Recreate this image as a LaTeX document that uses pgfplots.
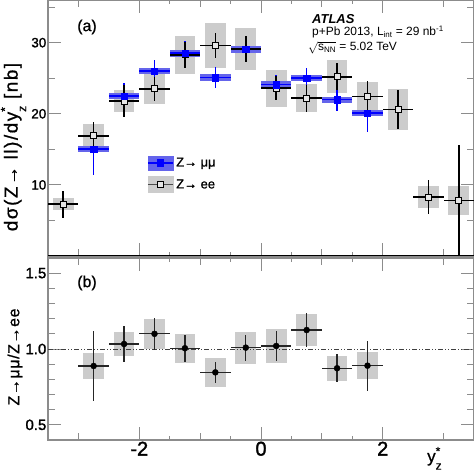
\documentclass[border=0pt]{standalone}
\usepackage{fontspec}
\setmainfont{Liberation Sans}
\usepackage{graphicx}
\usepackage{pgfplots}
\usepackage{pgfplotstable}
\pgfplotsset{compat=1.18}

\definecolor{boxgray}{gray}{0.80}
\definecolor{mubox}{RGB}{100,100,235}
\definecolor{framegray}{gray}{0.55}

\newcommand{\fb}[1]{\addfontfeature{FakeBold=#1}}

\pgfplotstableread{
x y stat sys
-3.25 7.3 1.9 0.85
-2.75 16.9 2.0 1.6
-2.25 21.8 2.2 1.6
-1.75 23.5 1.7 2.1
-1.25 28.3 1.8 2.7
-0.75 29.6 1.8 3.2
-0.25 29.1 1.8 3.0
0.25 23.6 1.7 2.6
0.75 22.2 1.9 2.0
1.25 25.2 1.9 2.3
1.75 22.4 2.2 2.1
2.25 20.6 2.7 2.9
2.75 8.3 2.45 1.5
3.25 7.8 7.8 2.0
}\eedata

\pgfplotstableread{
x y stat sys
-2.75 15.0 3.6 0.42
-2.25 22.5 1.8 0.42
-1.75 26.0 1.6 0.47
-1.25 28.5 1.8 0.5
-0.75 25.1 1.5 0.45
-0.25 29.1 1.8 0.5
0.25 24.1 1.4 0.45
0.75 25.0 1.5 0.45
1.25 22.0 1.6 0.42
1.75 20.1 2.6 0.42
}\mudata

\pgfplotstableread{
x y stat sys
-2.75 0.888 0.23 0.088
-2.25 1.033 0.12 0.077
-1.75 1.100 0.105 0.097
-1.25 1.005 0.088 0.097
-0.75 0.846 0.071 0.094
-0.25 1.009 0.086 0.105
0.25 1.020 0.096 0.115
0.75 1.125 0.114 0.105
1.25 0.873 0.091 0.082
1.75 0.890 0.166 0.090
}\ratiodata

\pgfplotsset{
  common/.style={
    scale only axis, width=426bp, xmin=-3.5, xmax=3.5,
    axis line style={framegray, line width=1.2bp},
    every tick/.style={framegray, line width=0.9bp},
    major tick length=13bp, minor tick length=4bp,
    xtick={-2,0,2}, minor x tick num=3,
    extra x ticks={-3,-1,1,3}, extra x tick labels={},
    extra x tick style={major tick length=7bp},
    /pgf/number format/assume math mode=true,
  },
  boxes/.style 2 args={only marks, mark=none, forget plot,
    error bars/.cd, y dir=both, y explicit, error mark=none,
    error bar style={line width=#1, #2}},
  stat/.style 2 args={only marks, mark=none, forget plot,
    error bars/.cd, x dir=both, x fixed=0.25, y dir=both, y explicit, error mark=none,
    error bar style={line width=#1, #2}},
}

\begin{document}
\begin{tikzpicture}
\path[use as bounding box] (0,0) rectangle (474bp,471bp);

% ---------------- top panel ----------------
\begin{axis}[common, at={(48bp,215bp)}, anchor=south west, height=256bp,
  ymin=0, ymax=36, ytick={10,20,30},
  extra y ticks={5,15,25,35}, extra y tick labels={},
  extra y tick style={major tick length=7bp},
  xticklabels={},
  yticklabel style={font=\fontsize{13.5}{13.5}\selectfont\fb{1.5}, inner sep=1.5bp},
  legend style={at={(0.2324,0.395)}, anchor=north west, draw=none, fill=none,
    inner sep=0pt, font=\fontsize{13}{13}\selectfont\fb{1.2}, row sep=6bp,
    cells={anchor=west}, nodes={inner sep=2.5bp}},
]
\addplot[boxes={20.7bp}{boxgray}] table[x=x, y=y, y error=sys] {\eedata};
\addplot[boxes={30.4bp}{mubox}] table[x=x, y=y, y error=sys] {\mudata};
\addplot[stat={1.7bp}{blue}] table[x=x, y=y, y error=stat] {\mudata};
\addplot[stat={1.5bp}{black}] table[x=x, y=y, y error=stat] {\eedata};
\addplot[only marks, mark=square*, mark size=3bp, forget plot,
  mark options={fill=gray!20, draw=black, line width=0.8bp}] table[x=x, y=y] {\eedata};
\addplot[only marks, mark=square*, mark size=3.2bp, forget plot,
  mark options={fill=blue, draw=blue}] table[x=x, y=y] {\mudata};
\draw[black, line width=1.5bp] (rel axis cs:0,0) -- (rel axis cs:1,0);

\addlegendimage{legend image code/.code={
  \fill[mubox] (0bp,-7bp) rectangle (25bp,7bp);
  \draw[blue, line width=1.5bp] (0bp,0bp) -- (25bp,0bp);
  \fill[blue] (9.3bp,-3.2bp) rectangle (15.7bp,3.2bp);}}
\addlegendentry{Z→ μμ}
\addlegendimage{legend image code/.code={
  \fill[boxgray] (0bp,-8bp) rectangle (25bp,8bp);
  \draw[black!70, line width=0.9bp] (0bp,0bp) -- (9.5bp,0bp) (15.5bp,0bp) -- (25bp,0bp);
  \draw[black, fill=gray!20, line width=0.8bp] (9.5bp,-3bp) rectangle (15.5bp,3bp);}}
\addlegendentry{Z→ ee}
\end{axis}

% ---------------- bottom panel ----------------
\begin{axis}[common, at={(48bp,31bp)}, anchor=south west, height=182bp,
  ymin=0.4, ymax=1.6, ytick={0.5,1,1.5},
  extra y ticks={0.4,0.6,0.7,0.8,0.9,1.1,1.2,1.3,1.4,1.6}, extra y tick labels={},
  extra y tick style={major tick length=7bp},
  yticklabel style={font=\fontsize{15}{15}\selectfont\fb{1.5}, inner sep=1.5bp,
    /pgf/number format/.cd, fixed, fixed zerofill, precision=1},
  xticklabel style={font=\fontsize{20}{20}\selectfont\fb{1.5}, inner sep=1.5bp},
]
\addplot[boxes={20.7bp}{boxgray}] table[x=x, y=y, y error=sys] {\ratiodata};
\addplot[black!75, line width=0.8bp, dash pattern=on 5bp off 2bp on 1bp off 2bp on 1bp off 2bp, forget plot]
  coordinates {(-3.5,1) (3.5,1)};
\addplot[stat={1.2bp}{black!85}] table[x=x, y=y, y error=stat] {\ratiodata};
\addplot[only marks, mark=*, mark size=3bp, black, forget plot] table[x=x, y=y] {\ratiodata};
\end{axis}

% ---------------- texts ----------------
\node[font=\fontsize{16}{16}\selectfont\fb{0.8}] at (87bp,444bp) {(a)};
\node[font=\fontsize{16}{16}\selectfont\fb{0.8}] at (87bp,188bp) {(b)};
\node[anchor=base west, font=\bfseries\itshape\fontsize{13}{13}\selectfont, inner sep=0pt] at (312bp,447.5bp) {ATLAS};
\node[anchor=base west, font=\fontsize{12}{12}\selectfont, inner sep=0pt] at (312bp,435bp) {p+Pb 2013, L\textsubscript{int} = 29 nb\textsuperscript{-1}};
\node[anchor=base west, font=\fontsize{12}{12}\selectfont, inner sep=0pt] at (308bp,420.5bp) {\smash{$\sqrt{\mbox{s\textsubscript{NN}}}$} = 5.02 TeV};

\node[rotate=90, font=\fontsize{19}{19}\selectfont\addfontfeature{LetterSpace=8,FakeBold=0.8}, inner sep=0pt] at (13.5bp,324bp)
  {dσ(Z→ ll)/dy\rlap{\raisebox{0.45em}{\fontsize{12}{12}\selectfont *}}\raisebox{-0.45em}{\fontsize{12}{12}\selectfont z} [nb]};
\node[rotate=90, font=\fontsize{16}{16}\selectfont\addfontfeature{LetterSpace=4,FakeBold=0.8}, inner sep=0pt] at (15bp,114bp)
  {Z→μμ/Z→ee};
\node[anchor=base west, font=\fontsize{17}{17}\selectfont\fb{0.8}, inner sep=0pt] at (427bp,9bp)
  {y\rlap{\raisebox{0.4em}{\fontsize{12}{12}\selectfont *}}\raisebox{-0.45em}{\fontsize{12}{12}\selectfont z}};
\end{tikzpicture}
\end{document}
